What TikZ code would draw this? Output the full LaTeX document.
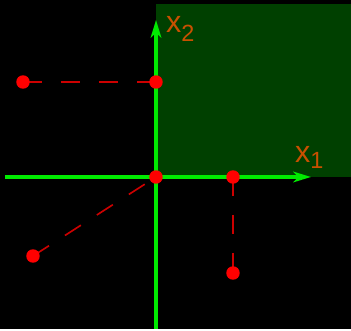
\documentclass[tikz,border=0pt]{standalone}
\usepackage{fontspec}
\setmainfont{Liberation Sans}
\usepackage{tikz}
\usetikzlibrary{arrows.meta,positioning,calc}

\definecolor{axisgreen}{RGB}{0,235,0}
\definecolor{quadgreen}{RGB}{0,64,0}
\definecolor{dotred}{RGB}{255,0,0}
\definecolor{dashred}{RGB}{205,0,0}
\definecolor{labelbrown}{RGB}{200,80,0}

\pgfdeclarelayer{front}
\pgfsetlayers{main,front}

\begin{document}
\begin{tikzpicture}[
    x=0.03cm, y=-0.03cm,
    axis/.style={draw=axisgreen, line width=2.6pt, -{Stealth[length=15pt, width=9pt, inset=4pt]}},
    proj/.style={draw=dashred, line width=1.4pt, dash pattern=on 16.2pt off 16.2pt},
    dot/.style={circle, fill=dotred, inner sep=0pt, minimum size=11.5pt},
    lbl/.style={text=labelbrown, inner sep=0pt, anchor=base west}
]
    % Background and first quadrant
    \fill[black] (0,0) rectangle (351,329);
    \fill[quadgreen] (156,4) rectangle (351,177);

    % Axes
    \coordinate (xbeg) at (5,177);
    \coordinate (xend) at (311,177);
    \coordinate (ybeg) at (156,329);
    \coordinate (yend) at (156,20);
    \path[axis] (xbeg) -- (xend);
    \path[axis] (ybeg) -- (yend);

    \node[lbl] (xone) at (295,163) {\fontsize{26}{26}\selectfont x\raisebox{-5pt}{\fontsize{20}{20}\selectfont 1}};
    \node[lbl] (xtwo) at (166,33) {\fontsize{26}{26}\selectfont x\raisebox{-7pt}{\fontsize{20}{20}\selectfont 2}};

    % Points
    \begin{pgfonlayer}{front}
    \node[dot] (a) at (23,82) {};
    \node[dot] (ay) at (156,82) {};
    \node[dot] (o) at (156,177) {};
    \node[dot] (b) at (33,256) {};
    \node[dot] (cx) at (233,177) {};
    \node[dot] (c) at (233,273) {};
    \end{pgfonlayer}

    % Projections
    \path[proj] (a.center) -- (ay.center);
    \path[proj] (b.center) -- (o.center);
    \path[proj] (cx.center) -- (c.center);

\end{tikzpicture}
\end{document}
